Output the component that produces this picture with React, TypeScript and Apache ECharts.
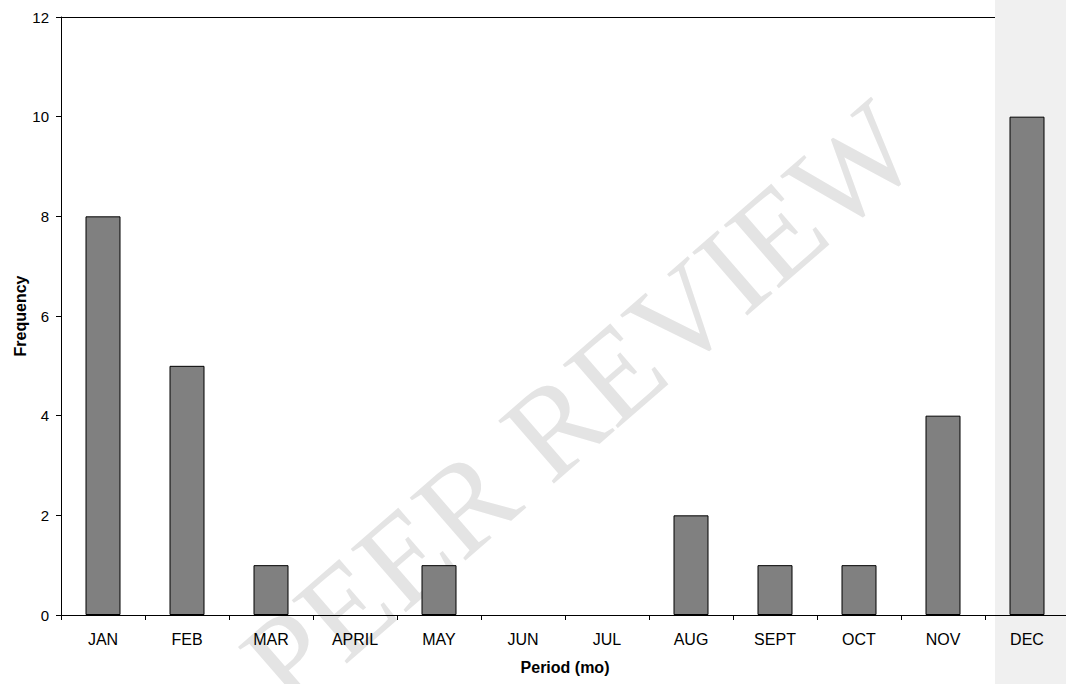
import React, { useEffect, useRef } from "react";
import * as echarts from "echarts";

const months = ["JAN", "FEB", "MAR", "APRIL", "MAY", "JUN", "JUL", "AUG", "SEPT", "OCT", "NOV", "DEC"];
const frequency = [8, 5, 1, 0, 1, 0, 0, 2, 1, 1, 4, 10];
const yTicks = { min: 0, max: 12, interval: 2 };

export default function App() {
  const ref = useRef<HTMLDivElement>(null);
  useEffect(() => {
    if (!ref.current) return;
    const chart = echarts.init(ref.current, null, { renderer: "svg" });
    const font = "'Liberation Sans', Arial, sans-serif";
    const barData = frequency.map((v) =>
      v === 0 ? { value: v, itemStyle: { borderWidth: 0, opacity: 0 } } : { value: v }
    );
    chart.setOption({
      animation: false,
      backgroundColor: "#ffffff",
      textStyle: { fontFamily: font },
      grid: {
        left: 61,
        top: 17,
        width: 1008,
        height: 598,
        containLabel: false,
        outerBoundsMode: "none",
      },
      xAxis: {
        type: "category",
        data: months,
        boundaryGap: true,
        name: "Period (mo)",
        nameLocation: "middle",
        nameGap: 44,
        nameMoveOverlap: false,
        nameTextStyle: { fontFamily: font, fontSize: 16, fontWeight: "bold", color: "#000" },
        axisLine: { lineStyle: { color: "#000", width: 1 } },
        axisTick: { show: true, alignWithLabel: false, length: 5, lineStyle: { color: "#000" } },
        axisLabel: { color: "#000", fontSize: 16, fontFamily: font, margin: 16, interval: 0 },
        splitLine: { show: false },
      },
      yAxis: {
        type: "value",
        min: yTicks.min,
        max: yTicks.max,
        interval: yTicks.interval,
        name: "Frequency",
        nameLocation: "middle",
        nameGap: 33,
        nameMoveOverlap: false,
        nameTextStyle: { fontFamily: font, fontSize: 16, fontWeight: "bold", color: "#000" },
        axisLine: { show: true, lineStyle: { color: "#000", width: 1 } },
        axisTick: { show: true, length: 5, lineStyle: { color: "#000" } },
        axisLabel: { color: "#000", fontSize: 15, fontFamily: font, margin: 12 },
        splitLine: { show: false },
      },
      graphic: {
        elements: [
          {
            type: "rect",
            z: -10,
            shape: { x: 995, y: 0, width: 71, height: 684 },
            style: { fill: "#f0f0f0" },
            silent: true,
          },
          {
            type: "line",
            z: 1,
            shape: { x1: 61, y1: 17.5, x2: 995, y2: 17.5 },
            style: { stroke: "#000", lineWidth: 1 },
            silent: true,
          },
          {
            type: "text",
            z: -5,
            x: 580,
            y: 404,
            rotation: (41 * Math.PI) / 180,
            style: {
              text: "PEER REVIEW",
              fontFamily: "'Liberation Serif', 'DejaVu Serif', serif",
              fontSize: 128,
              fill: "#e4e4e4",
              align: "center",
              verticalAlign: "middle",
            },
            silent: true,
          },
        ],
      },
      series: [
        {
          type: "bar",
          data: barData,
          barWidth: 35,
          itemStyle: { color: "#808080", borderColor: "#000", borderWidth: 1 },
        },
      ],
    });
    return () => chart.dispose();
  }, []);
  return (
    <div
      ref={ref}
      style={{ position: "absolute", left: 0, top: 0, width: 1066, height: 684 }}
    />
  );
}
